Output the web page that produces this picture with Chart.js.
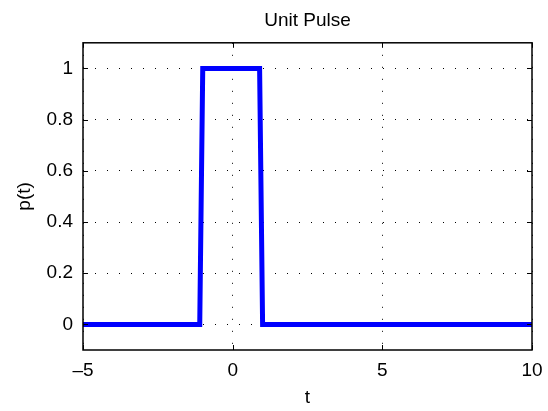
<!DOCTYPE html>
<html>
<head>
<meta charset="utf-8">
<script src="https://cdn.jsdelivr.net/npm/chart.js@4"></script>
<style>
  html, body { margin: 0; padding: 0; background: #fff; }
  #wrap { width: 548px; height: 411px; }
</style>
</head>
<body>
<div id="wrap"><canvas id="pulse"></canvas></div>
<script>
// pulse samples
const tValues = [-5, -1.1, -1, 0.9, 1, 10];
const pValues = [0, 0, 1, 1, 0, 0];
const xTicks = [-5, 0, 5, 10];
const yTicks = [0, 0.2, 0.4, 0.6, 0.8, 1];

const FONT = "'Liberation Sans', Arial, Helvetica, sans-serif";

// matlab style box with inward ticks on all four sides
const boxPlugin = {
    id: 'box',
    afterLayout(chart) {
        // centre the title over the axes, not the whole canvas
        const a = chart.chartArea;
        if (chart.titleBlock) {
            chart.titleBlock.left = a.left;
            chart.titleBlock.right = a.right;
            chart.titleBlock.width = a.right - a.left;
        }
    },
    afterDraw(chart) {
        const ctx = chart.ctx;
        const a = chart.chartArea;
        const xs = chart.scales.x, ys = chart.scales.y;
        ctx.save();
        ctx.strokeStyle = '#000';
        ctx.lineWidth = 1.5;
        ctx.strokeRect(a.left, a.top, a.right - a.left, a.bottom - a.top);
        ctx.lineWidth = 1;
        ctx.beginPath();
        xTicks.forEach(v => {
            const px = Math.round(xs.getPixelForValue(v)) + 0.5;
            ctx.moveTo(px, a.bottom); ctx.lineTo(px, a.bottom - 5);
            ctx.moveTo(px, a.top); ctx.lineTo(px, a.top + 5);
        });
        yTicks.forEach(v => {
            const py = Math.round(ys.getPixelForValue(v)) + 0.5;
            ctx.moveTo(a.left, py); ctx.lineTo(a.left + 5, py);
            ctx.moveTo(a.right, py); ctx.lineTo(a.right - 5, py);
        });
        ctx.stroke();
        ctx.restore();
    }
};

new Chart(document.getElementById('pulse'), {
    type: 'scatter',
    data: {
        datasets: [{
            data: tValues.map((t, i) => ({x: t, y: pValues[i]})),
            showLine: true,
            borderColor: '#0000ff',
            borderWidth: 5,
            pointRadius: 0,
            fill: false,
            tension: 0
        }]
    },
    options: {
        responsive: true,
        maintainAspectRatio: false,
        animation: false,
        layout: { padding: { left: 0, right: 16, top: 0, bottom: 0 } },
        plugins: {
            legend: { display: false },
            tooltip: { enabled: false },
            title: {
                display: true,
                text: 'Unit Pulse',
                color: '#000',
                font: { family: FONT, size: 19, weight: 'normal' },
                padding: { top: 9, bottom: 11 }
            }
        },
        scales: {
            x: {
                type: 'linear',
                min: -5, max: 10,
                afterBuildTicks(s) { s.ticks = xTicks.map(v => ({value: v})); },
                afterFit(s) { s.height = 61; s.paddingLeft = 0; s.paddingRight = 0; },
                grid: { color: '#000', lineWidth: 1, drawTicks: false },
                border: { display: false, dash: [1, 11] },
                ticks: {
                    color: '#000', padding: 9,
                    font: { family: FONT, size: 19 },
                    callback: v => String(v).replace('-', '\u2013')
                },
                title: {
                    display: true, text: 't', color: '#000',
                    font: { family: FONT, size: 19 },
                    padding: { top: 4, bottom: 2 }
                }
            },
            y: {
                type: 'linear',
                min: -0.1, max: 1.1,
                afterBuildTicks(s) { s.ticks = yTicks.map(v => ({value: v})); },
                afterFit(s) { s.width = 83; s.paddingTop = 0; s.paddingBottom = 0; },
                grid: { color: '#000', lineWidth: 1, drawTicks: false },
                border: { display: false, dash: [1, 11] },
                ticks: {
                    color: '#000', padding: 10,
                    font: { family: FONT, size: 19 },
                    callback: v => String(v)
                },
                title: {
                    display: true, text: 'p(t)', color: '#000',
                    font: { family: FONT, size: 19 },
                    padding: { top: 13, bottom: 4 }
                }
            }
        }
    },
    plugins: [boxPlugin]
});
</script>
</body>
</html>
